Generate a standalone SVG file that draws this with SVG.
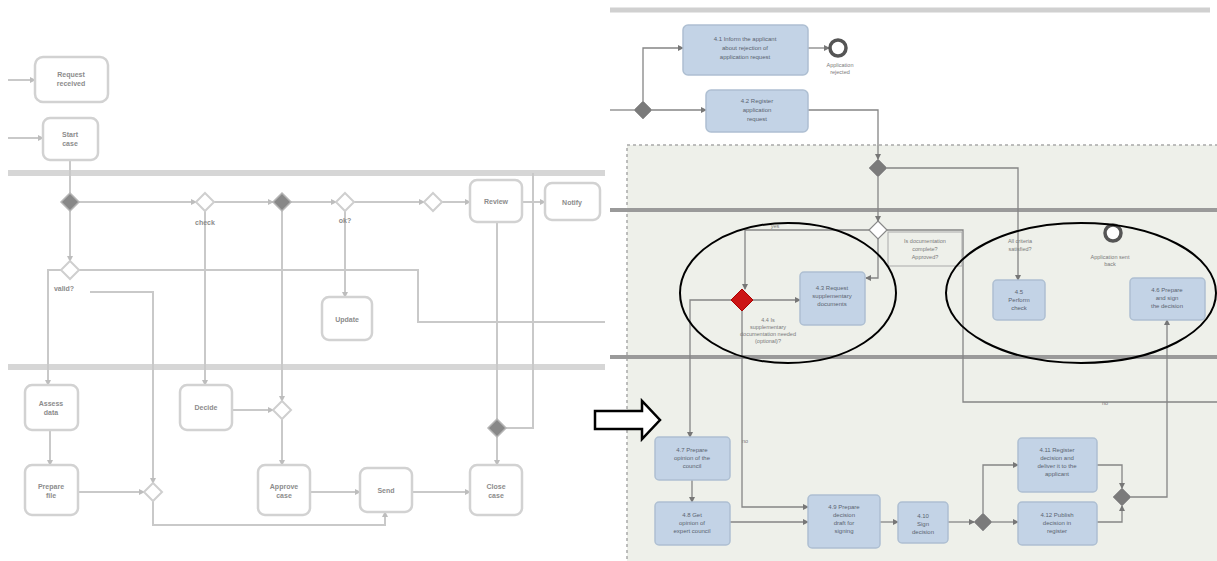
<svg xmlns="http://www.w3.org/2000/svg" width="1217" height="561" viewBox="0 0 1217 561">
<style>
.lane{stroke:#d6d6d6;stroke-width:6;fill:none}
.lc{stroke:#c9c9c9;stroke-width:2;fill:none}
.ln{fill:#fff;stroke:#d2d2d2;stroke-width:2.5}
.lt{font-family:"Liberation Sans",Arial,sans-serif;font-size:7px;font-weight:bold;fill:#8c8c8c;text-anchor:middle}
.lgx{fill:#fff;stroke:#cfcfcf;stroke-width:2}
.lgp{fill:#888;stroke:#b5b5b5;stroke-width:1.5}
.rl{stroke:#9a9a9a;stroke-width:4;fill:none}
.rc{stroke:#858585;stroke-width:1.3;fill:none}
.rn{fill:#c3d3e6;stroke:#aebfd2;stroke-width:1.5}
.rt{font-family:"Liberation Sans",Arial,sans-serif;font-size:6px;fill:#5a6370;text-anchor:middle}
.rtk{font-family:"Liberation Sans",Arial,sans-serif;font-size:5.5px;fill:#7a7a7a;text-anchor:middle}
.rgp{fill:#7b7b7b;stroke:#999;stroke-width:1}
.ell{fill:none;stroke:#000;stroke-width:2}
</style>
<defs>
<marker id="al" markerWidth="6" markerHeight="6" refX="5" refY="3" orient="auto" markerUnits="userSpaceOnUse"><path d="M0,0 L6,3 L0,6 z" fill="#bdbdbd"/></marker>
<marker id="ar" markerWidth="6" markerHeight="6" refX="5" refY="3" orient="auto" markerUnits="userSpaceOnUse"><path d="M0,0 L6,3 L0,6 z" fill="#777"/></marker>
</defs>
<rect width="1217" height="561" fill="#fff"/>

<!-- LEFT DIAGRAM -->
<g id="left-lanes">
<line class="lane" x1="8" y1="173" x2="605" y2="173"/>
<line class="lane" x1="8" y1="367" x2="605" y2="367"/>
</g>
<g id="left-connectors">
<path class="lc" d="M8,80 H35" marker-end="url(#al)"/>
<path class="lc" d="M8,138 H43" marker-end="url(#al)"/>
<path class="lc" d="M70,160 V193"/>
<path class="lc" d="M79,202 H196" marker-end="url(#al)"/>
<path class="lc" d="M214,202 H273" marker-end="url(#al)"/>
<path class="lc" d="M291,202 H336" marker-end="url(#al)"/>
<path class="lc" d="M354,202 H424" marker-end="url(#al)"/>
<path class="lc" d="M442,202 H470" marker-end="url(#al)"/>
<path class="lc" d="M522,202 H545" marker-end="url(#al)"/>
<path class="lc" d="M70,211 V261" marker-end="url(#al)"/>
<path class="lc" d="M79,270 H418 V322 H605"/>
<path class="lc" d="M61,270 H48 V385" marker-end="url(#al)"/>
<path class="lc" d="M90,292 H153 V483" marker-end="url(#al)"/>
<path class="lc" d="M205,211 V385" marker-end="url(#al)"/>
<path class="lc" d="M282,211 V401" marker-end="url(#al)"/>
<path class="lc" d="M282,419 V465" marker-end="url(#al)"/>
<path class="lc" d="M345,211 V297" marker-end="url(#al)"/>
<path class="lc" d="M497,222 V419"/>
<path class="lc" d="M497,437 V465" marker-end="url(#al)"/>
<path class="lc" d="M533,173 V428 H506"/>
<path class="lc" d="M50,430 V465" marker-end="url(#al)"/>
<path class="lc" d="M78,492 H144" marker-end="url(#al)"/>
<path class="lc" d="M153,501 V525 H385 V512" marker-end="url(#al)"/>
<path class="lc" d="M232,410 H273" marker-end="url(#al)"/>
<path class="lc" d="M310,492 H360" marker-end="url(#al)"/>
<path class="lc" d="M412,492 H470" marker-end="url(#al)"/>
</g>
<g id="L1"><rect class="ln" x="35" y="57" width="73" height="45" rx="8"/><text class="lt" x="71" y="77">Request</text><text class="lt" x="71" y="86">received</text></g>
<g id="L2"><rect class="ln" x="43" y="118" width="55" height="42" rx="7"/><text class="lt" x="70" y="137">Start</text><text class="lt" x="70" y="146">case</text></g>
<g id="LG1"><path class="lgp" d="M70,193 L79,202 L70,211 L61,202 z"/></g>
<g id="LG2"><path class="lgx" d="M205,193 L214,202 L205,211 L196,202 z"/><text class="lt" x="205" y="225">check</text></g>
<g id="LG3"><path class="lgp" d="M282,193 L291,202 L282,211 L273,202 z"/></g>
<g id="LG4"><path class="lgx" d="M345,193 L354,202 L345,211 L336,202 z"/><text class="lt" x="345" y="223">ok?</text></g>
<g id="LG5"><path class="lgx" d="M433,193 L442,202 L433,211 L424,202 z"/></g>
<g id="LN1"><rect class="ln" x="470" y="180" width="52" height="42" rx="7"/><text class="lt" x="496" y="204">Review</text></g>
<g id="LN2"><rect class="ln" x="545" y="183" width="55" height="37" rx="7"/><text class="lt" x="572" y="205">Notify</text></g>
<g id="LG6"><path class="lgx" d="M70,261 L79,270 L70,279 L61,270 z"/><text class="lt" x="64" y="291">valid?</text></g>
<g id="LN3"><rect class="ln" x="322" y="297" width="50" height="43" rx="7"/><text class="lt" x="347" y="322">Update</text></g>
<g id="LB1"><rect class="ln" x="25" y="385" width="53" height="45" rx="7"/><text class="lt" x="51" y="406">Assess</text><text class="lt" x="51" y="415">data</text></g>
<g id="LB2"><rect class="ln" x="25" y="465" width="53" height="50" rx="7"/><text class="lt" x="51" y="489">Prepare</text><text class="lt" x="51" y="498">file</text></g>
<g id="LB3"><rect class="ln" x="180" y="385" width="52" height="45" rx="7"/><text class="lt" x="206" y="410">Decide</text></g>
<g id="LG7"><path class="lgx" d="M282,401 L291,410 L282,419 L273,410 z"/></g>
<g id="LB4"><rect class="ln" x="258" y="465" width="52" height="50" rx="7"/><text class="lt" x="284" y="489">Approve</text><text class="lt" x="284" y="498">case</text></g>
<g id="LG8"><path class="lgx" d="M153,483 L162,492 L153,501 L144,492 z"/></g>
<g id="LB5"><rect class="ln" x="360" y="468" width="52" height="44" rx="7"/><text class="lt" x="386" y="493">Send</text></g>
<g id="LG9"><path class="lgp" d="M497,419 L506,428 L497,437 L488,428 z"/></g>
<g id="LB6"><rect class="ln" x="470" y="465" width="52" height="50" rx="7"/><text class="lt" x="496" y="489">Close</text><text class="lt" x="496" y="498">case</text></g>

<!-- RIGHT DIAGRAM -->
<g id="right-region">
<line class="rl" x1="610" y1="10" x2="1210" y2="10" style="stroke:#d0d0d0;stroke-width:5"/>
<rect x="627" y="145" width="600" height="420" fill="#eef0ea" stroke="#a9a9a9" stroke-width="1.5" stroke-dasharray="3,3"/>
<line class="rl" x1="610" y1="210" x2="1217" y2="210"/>
<line class="rl" x1="610" y1="357" x2="1217" y2="357"/>
</g>
<g id="right-connectors">
<path class="rc" d="M610,110 H634"/>
<path class="rc" d="M643,101 V48 H683" marker-end="url(#ar)"/>
<path class="rc" d="M808,48 H829" marker-end="url(#ar)"/>
<path class="rc" d="M652,110 H706" marker-end="url(#ar)"/>
<path class="rc" d="M808,110 H878 V159" marker-end="url(#ar)"/>
<path class="rc" d="M878,177 V221" marker-end="url(#ar)"/>
<path class="rc" d="M887,168 H1018 V280" marker-end="url(#ar)"/>
<path class="rc" d="M887,230 H963 V402 H1217"/>
<path class="rc" d="M869,230 H745 V289" marker-end="url(#ar)"/>
<path class="rc" d="M878,239 V278 H866" marker-end="url(#ar)"/>
<path class="rc" d="M753,300 H800" marker-end="url(#ar)"/>
<path class="rc" d="M731,300 H690 V437" marker-end="url(#ar)"/>
<path class="rc" d="M742,311 V507 H808" marker-end="url(#ar)"/>
<path class="rc" d="M692,480 V502" marker-end="url(#ar)"/>
<path class="rc" d="M730,522 H808" marker-end="url(#ar)"/>
<path class="rc" d="M880,522 H898" marker-end="url(#ar)"/>
<path class="rc" d="M948,522 H974" marker-end="url(#ar)"/>
<path class="rc" d="M983,513 V465 H1018" marker-end="url(#ar)"/>
<path class="rc" d="M992,522 H1018" marker-end="url(#ar)"/>
<path class="rc" d="M1097,465 H1122 V488" marker-end="url(#ar)"/>
<path class="rc" d="M1097,522 H1122 V506" marker-end="url(#ar)"/>
<path class="rc" d="M1131,497 H1167 V320" marker-end="url(#ar)"/>
</g>
<g id="RA"><rect class="rn" x="683" y="25" width="125" height="50" rx="5"/><text class="rt" x="745" y="41">4.1 Inform the applicant</text><text class="rt" x="745" y="50">about rejection of</text><text class="rt" x="745" y="59">application request</text></g>
<g id="RE1"><circle cx="838" cy="48" r="8" fill="#fff" stroke="#555" stroke-width="3.5"/><text class="rtk" x="840" y="67">Application</text><text class="rtk" x="840" y="74">rejected</text></g>
<g id="RG1"><path class="rgp" d="M643,101 L652,110 L643,119 L634,110 z"/></g>
<g id="RB"><rect class="rn" x="706" y="90" width="102" height="42" rx="5"/><text class="rt" x="757" y="103">4.2 Register</text><text class="rt" x="757" y="112">application</text><text class="rt" x="757" y="121">request</text></g>
<g id="RG2"><path class="rgp" d="M878,159 L887,168 L878,177 L869,168 z"/></g>
<g id="RG3"><path d="M878,221 L887,230 L878,239 L869,230 z" fill="#fff" stroke="#888" stroke-width="1.2"/><text class="rtk" x="775" y="228">yes</text></g>
<g id="RL1"><rect x="888" y="232" width="74" height="34" fill="#eef0ea" stroke="#aaa" stroke-width="1"/><text class="rtk" x="925" y="243">Is documentation</text><text class="rtk" x="925" y="251">complete?</text><text class="rtk" x="925" y="259">Approved?</text></g>
<g id="RLab"><text class="rtk" x="1020" y="243">All criteria</text><text class="rtk" x="1020" y="251">satisfied?</text></g>
<g id="RC"><rect class="rn" x="993" y="280" width="52" height="40" rx="4"/><text class="rt" x="1019" y="294">4.5</text><text class="rt" x="1019" y="302">Perform</text><text class="rt" x="1019" y="310">check</text></g>
<g id="RE2"><circle cx="1113" cy="233" r="8" fill="#fff" stroke="#555" stroke-width="3.5"/><text class="rtk" x="1110" y="259">Application sent</text><text class="rtk" x="1110" y="266">back</text></g>
<g id="RD"><rect class="rn" x="1130" y="278" width="75" height="42" rx="4"/><text class="rt" x="1167" y="292">4.6 Prepare</text><text class="rt" x="1167" y="300">and sign</text><text class="rt" x="1167" y="308">the decision</text></g>
<g id="RE"><rect class="rn" x="800" y="272" width="65" height="53" rx="4"/><text class="rt" x="832" y="290">4.3 Request</text><text class="rt" x="832" y="298">supplementary</text><text class="rt" x="832" y="306">documents</text></g>
<g id="RG4"><path d="M742,289 L753,300 L742,311 L731,300 z" fill="#cc1414" stroke="#a00" stroke-width="1"/><text class="rtk" x="768" y="322">4.4 Is</text><text class="rtk" x="768" y="329">supplementary</text><text class="rtk" x="768" y="336">documentation needed</text><text class="rtk" x="768" y="343">(optional)?</text></g>
<text class="rtk" x="1105" y="405">no</text>
<text class="rtk" x="745" y="443">no</text>
<g id="RF"><rect class="rn" x="655" y="437" width="75" height="43" rx="4"/><text class="rt" x="692" y="452">4.7 Prepare</text><text class="rt" x="692" y="460">opinion of the</text><text class="rt" x="692" y="468">council</text></g>
<g id="RH"><rect class="rn" x="655" y="502" width="75" height="43" rx="4"/><text class="rt" x="692" y="517">4.8 Get</text><text class="rt" x="692" y="525">opinion of</text><text class="rt" x="692" y="533">expert council</text></g>
<g id="RGn"><rect class="rn" x="808" y="495" width="72" height="53" rx="4"/><text class="rt" x="844" y="509">4.9 Prepare</text><text class="rt" x="844" y="517">decision</text><text class="rt" x="844" y="525">draft for</text><text class="rt" x="844" y="533">signing</text></g>
<g id="RI"><rect class="rn" x="898" y="502" width="50" height="41" rx="4"/><text class="rt" x="923" y="518">4.10</text><text class="rt" x="923" y="526">Sign</text><text class="rt" x="923" y="534">decision</text></g>
<g id="RG5"><path class="rgp" d="M983,513 L992,522 L983,531 L974,522 z"/></g>
<g id="RJ"><rect class="rn" x="1018" y="438" width="79" height="54" rx="4"/><text class="rt" x="1057" y="452">4.11 Register</text><text class="rt" x="1057" y="460">decision and</text><text class="rt" x="1057" y="468">deliver it to the</text><text class="rt" x="1057" y="476">applicant</text></g>
<g id="RK"><rect class="rn" x="1018" y="502" width="79" height="43" rx="4"/><text class="rt" x="1057" y="517">4.12 Publish</text><text class="rt" x="1057" y="525">decision in</text><text class="rt" x="1057" y="533">register</text></g>
<g id="RG6"><path class="rgp" d="M1122,488 L1131,497 L1122,506 L1113,497 z"/></g>

<!-- annotations -->
<g id="ellipse1"><ellipse class="ell" cx="788" cy="293" rx="108" ry="70"/></g>
<g id="ellipse2"><ellipse class="ell" cx="1081" cy="293" rx="135" ry="70"/></g>
<g id="big-arrow"><polygon points="595,411 642,411 642,401 660,420 642,439 642,429 595,429" fill="#fff" stroke="#000" stroke-width="2.5" stroke-linejoin="miter"/></g>
</svg>
